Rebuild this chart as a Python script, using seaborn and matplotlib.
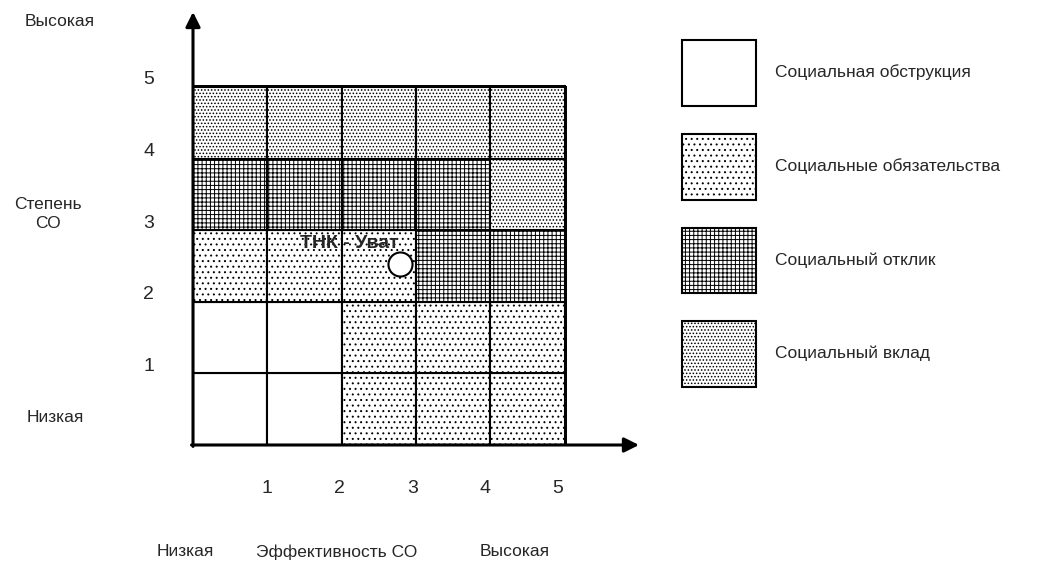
import numpy as np
import matplotlib
matplotlib.use("Agg")
import matplotlib.pyplot as plt
from matplotlib.colors import ListedColormap
from matplotlib.patches import Patch
import seaborn as sns

# Данные матрицы (строки снизу вверх, столбцы слева направо)
categories = ["Социальная обструкция", "Социальные обязательства",
              "Социальный отклик", "Социальный вклад"]
cell_codes = [
    [0, 0, 1, 1, 1],
    [0, 0, 1, 1, 1],
    [1, 1, 1, 2, 2],
    [2, 2, 2, 2, 3],
    [3, 3, 3, 3, 3],
]
levels = [1, 2, 3, 4, 5]
tick_labels = ["1", "2", "3", "4", "5"]
company = "ТНК - Уват"
company_x = [2.78]
company_y = [2.53]

hatches = ["", "...", "++++", "....."]

sns.set_style("white")
plt.rcParams["font.family"] = ["Liberation Sans", "DejaVu Sans"]
plt.rcParams["hatch.linewidth"] = 0.7
plt.rcParams["hatch.color"] = "black"
FS = 12.5

fig = plt.figure(figsize=(10.64, 5.67), dpi=100)
ax = fig.add_axes([193 / 1064, 122 / 567, 446 / 1064, 433 / 567])

codes = np.array(cell_codes)
sns.heatmap(codes, ax=ax, cmap=ListedColormap(["white"]), cbar=False,
            linewidths=1.5, linecolor="black")

for r, row in enumerate(cell_codes):
    for c, code in enumerate(row):
        ax.bar(c + 0.5, 1, bottom=r, width=1, facecolor="white",
               edgecolor="black", linewidth=1.5, hatch=hatches[code])

ax.set_xlim(0, 6)
ax.set_ylim(0, 6.05)
for s in ax.spines.values():
    s.set_visible(False)

# оси со стрелками
ax.annotate("", xy=(0, 6.05), xytext=(0, -0.02),
            arrowprops=dict(arrowstyle="-|>", lw=2.2, color="black",
                            mutation_scale=22, shrinkA=0, shrinkB=0),
            annotation_clip=False)
ax.annotate("", xy=(6, 0), xytext=(-0.02, 0),
            arrowprops=dict(arrowstyle="-|>", lw=2.2, color="black",
                            mutation_scale=22, shrinkA=0, shrinkB=0),
            annotation_clip=False)

ax.set_xticks([v - 0.02 * (v - 1) - 0.01 for v in levels])
ax.set_xticklabels(tick_labels, fontsize=14)
ax.set_yticks([v + 0.1 for v in levels])
ax.set_yticklabels(tick_labels, fontsize=14, rotation=0)
ax.tick_params(axis="x", length=0, pad=25)
ax.tick_params(axis="y", length=0, pad=28)
ax.set_xlabel("")
ax.set_ylabel("")

ax.scatter(company_x, company_y, s=300, facecolor="white",
           edgecolor="black", linewidth=1.5, zorder=5)
ax.text(1.44, 2.81, company, fontsize=14, fontweight="bold",
        ha="left", va="center", zorder=6)

# подписи осей
fig.text(60 / 1064, 1 - 22 / 567, "Высокая", fontsize=FS, ha="center", va="center")
fig.text(48 / 1064, 1 - 214 / 567, "Степень\nСО", fontsize=FS, ha="center",
         va="center", linespacing=1.3)
fig.text(55 / 1064, 1 - 417 / 567, "Низкая", fontsize=FS, ha="center", va="center")
fig.text(185 / 1064, 1 - 552 / 567, "Низкая", fontsize=FS, ha="center", va="center")
fig.text(337 / 1064, 1 - 552 / 567, "Эффективность СО", fontsize=FS,
         ha="center", va="center")
fig.text(515 / 1064, 1 - 552 / 567, "Высокая", fontsize=FS, ha="center", va="center")

handles = [Patch(facecolor="white", edgecolor="black", linewidth=1.5,
                 hatch=hatches[i], label=categories[i]) for i in range(4)]
fig.legend(handles=handles, loc="upper left",
           bbox_to_anchor=(682 / 1064, 1 - 40 / 567),
           bbox_transform=fig.transFigure, frameon=False, fontsize=FS,
           handlelength=4.26, handleheight=5.47, labelspacing=1.6,
           handletextpad=1.1, borderpad=0, borderaxespad=0)

fig.savefig("out.png", dpi=100)
